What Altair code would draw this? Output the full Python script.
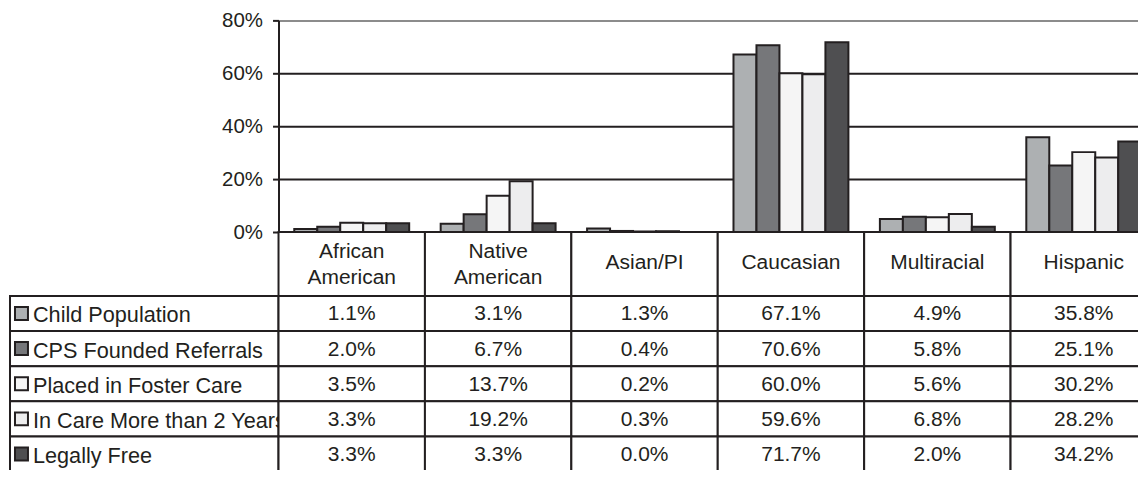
import altair as alt
import pandas as pd

# ---- data ----
categories = ["African American", "Native American", "Asian/PI", "Caucasian", "Multiracial", "Hispanic"]
header_line1 = ["African", "Native", "Asian/PI", "Caucasian", "Multiracial", "Hispanic"]
header_line2 = ["American", "American", "", "", "", ""]
series = ["Child Population", "CPS Founded Referrals", "Placed in Foster Care",
          "In Care More than 2 Years", "Legally Free"]
child_population = [1.1, 3.1, 1.3, 67.1, 4.9, 35.8]
cps_founded_referrals = [2.0, 6.7, 0.4, 70.6, 5.8, 25.1]
placed_in_foster_care = [3.5, 13.7, 0.2, 60.0, 5.6, 30.2]
in_care_more_than_2_years = [3.3, 19.2, 0.3, 59.6, 6.8, 28.2]
legally_free = [3.3, 3.3, 0.0, 71.7, 2.0, 34.2]
y_ticks = [0, 0.2, 0.4, 0.6, 0.8]

# ---- style ----
INK = "#231f20"
FONT = "Liberation Sans"
colors = ["#adb0b2", "#76777a", "#f5f5f5", "#ededee", "#4f4f51"]
PAD_L = 1
PLOT_W = 880
PLOT_H = 212
LABEL_W = 270 - PAD_L
HEADER_H = 64
ROW_H = 35.2

values_by_series = [child_population, cps_founded_referrals, placed_in_foster_care,
                    in_care_more_than_2_years, legally_free]
rows = []
for s, vals in zip(series, values_by_series):
    for c, v in zip(categories, vals):
        rows.append({"category": c, "series": s, "value": v / 100.0, "label": f"{v:.1f}%"})
df = pd.DataFrame(rows)
header_df = pd.DataFrame({"category": categories, "line1": header_line1, "line2": header_line2})
header_df["two"] = header_df["line2"] != ""
series_df = pd.DataFrame({"series": series})

color_scale = alt.Scale(domain=series, range=colors)
x_enc = alt.X("category:N", sort=categories,
              scale=alt.Scale(domain=categories, paddingInner=0, paddingOuter=0), axis=None)
y_rows = alt.Y("series:N", sort=series,
               scale=alt.Scale(domain=series, paddingInner=0, paddingOuter=0), axis=None)

# ---- bar chart ----
bars = alt.Chart(df).mark_bar(stroke=INK, strokeWidth=2, strokeJoin="miter").encode(
    x=x_enc,
    xOffset=alt.XOffset("series:N", sort=series,
                        scale=alt.Scale(domain=series, paddingInner=0, paddingOuter=0.685)),
    y=alt.Y("value:Q",
            scale=alt.Scale(domain=[0, 0.8], nice=False),
            axis=alt.Axis(values=y_ticks, format=".0%", title=None,
                          labelFont=FONT, labelFontSize=20.5, labelColor=INK, labelPadding=10,
                          tickSize=6, tickWidth=2, tickColor=INK,
                          domainColor=INK, domainWidth=2,
                          gridWidth=2,
                          gridColor={"condition": {"test": "datum.value >= 0.8", "value": "#8c8c8c"},
                                     "value": INK})),
    fill=alt.Fill("series:N", scale=color_scale, legend=None),
).properties(width=PLOT_W, height=PLOT_H)

# ---- header row ----
header_base = alt.Chart(header_df)
header_rect = header_base.mark_rect(fill="white", stroke=INK, strokeWidth=2).encode(x=x_enc)
text_style = dict(font=FONT, fontSize=21, color=INK, baseline="middle")
header_single = header_base.transform_filter("!datum.two").mark_text(dy=-1, **text_style).encode(
    x=x_enc, text="line1:N")
header_top = header_base.transform_filter("datum.two").mark_text(dy=-12, **text_style).encode(
    x=x_enc, text="line1:N")
header_bottom = header_base.transform_filter("datum.two").mark_text(dy=14, **text_style).encode(
    x=x_enc, text="line2:N")
header = alt.layer(header_rect, header_single, header_top, header_bottom).properties(
    width=PLOT_W, height=HEADER_H)

# ---- data table cells ----
cell_rect = alt.Chart(df).mark_rect(fill="white", stroke=INK, strokeWidth=2).encode(x=x_enc, y=y_rows)
cell_text = alt.Chart(df).mark_text(
    font=FONT, fontSize=21, color=INK, baseline="middle", dy=1
).encode(x=x_enc, y=y_rows, text="label:N")
cells = alt.layer(cell_rect, cell_text).properties(width=PLOT_W, height=5 * ROW_H)

# ---- row labels with legend keys ----
lab_rect = alt.Chart(series_df).mark_rect(fill="white", stroke=INK, strokeWidth=2).encode(y=y_rows)
lab_key = alt.Chart(series_df).mark_point(
    shape="square", filled=True, size=169, stroke=INK, strokeWidth=2, opacity=1
).encode(y=y_rows, x=alt.value(11.5), fill=alt.Fill("series:N", scale=color_scale, legend=None))
lab_text = alt.Chart(series_df).mark_text(
    font=FONT, fontSize=21.7, color=INK, align="left", baseline="middle", dy=2, clip=True
).encode(y=y_rows, x=alt.value(23), text="series:N")
labels = alt.layer(lab_rect, lab_key, lab_text).properties(width=LABEL_W, height=5 * ROW_H)

blank_df = pd.DataFrame({"a": [0]})
blank_top = alt.Chart(blank_df).mark_point(opacity=0).properties(width=LABEL_W, height=PLOT_H)
blank_mid = alt.Chart(blank_df).mark_point(opacity=0).properties(width=LABEL_W, height=HEADER_H)

chart = alt.concat(
    blank_top, bars,
    blank_mid, header,
    labels, cells,
    columns=2, spacing=0, bounds="flush",
).properties(
    padding={"left": PAD_L, "top": 2, "right": -20, "bottom": -3}, background="white"
).configure_view(strokeWidth=0)

chart.save("out.html", embed_options={"renderer": "svg", "actions": False})
